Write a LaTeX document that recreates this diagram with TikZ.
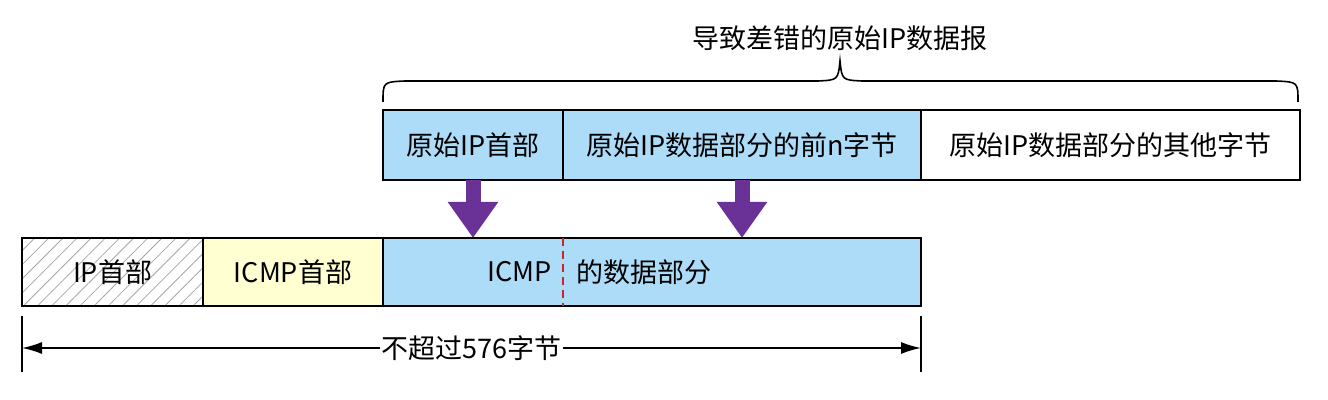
\documentclass[tikz,border=0pt]{standalone}
\usepackage{fontspec}
\setmainfont{Noto Sans CJK SC}
\usetikzlibrary{arrows.meta,patterns.meta}
\definecolor{pktblue}{HTML}{ADDCF8}
\definecolor{pktyellow}{HTML}{FFFFD2}
\definecolor{pktpurple}{HTML}{6A3296}
\definecolor{pktred}{HTML}{C8282D}
\begin{document}
\begin{tikzpicture}[x=0.5pt,y=-0.5pt]
    \tikzset{>={Latex[length=10pt,width=6pt]}}
    \tikzset{cell/.style={draw,line width=1pt,anchor=west,inner sep=0pt,outer sep=0pt,font=\fontsize{13.5}{16}\selectfont}}
    \tikzset{push/.style={pktpurple,line width=7.5pt,-{Triangle[length=18pt,width=24pt]}}}
    \tikzset{txt/.style={inner sep=0pt,font=\fontsize{13.5}{16}\selectfont}}
    \useasboundingbox (0,0) rectangle (1328,400);
    % original datagram
    \node[cell,fill=pktblue,minimum width=90pt,minimum height=35pt] (ohdr) at (383,145) {原始IP首部};
    \node[cell,fill=pktblue,minimum width=179pt,minimum height=35pt] (ofirst) at (ohdr.east) {原始IP数据部分的前n字节};
    \node[cell,fill=white,minimum width=189.5pt,minimum height=35pt] (orest) at (ofirst.east) {原始IP数据部分的其他字节};
    \draw[line width=0.8pt] (383,102) .. controls (383,82) .. (405,81) -- (818,81)
        .. controls (838,80) .. (840,61) .. controls (842,80) .. (862,81) -- (1276,81)
        .. controls (1298,82) .. (1298,102);
    \node[txt] (title) at (840,38) {导致差错的原始IP数据报};
    % icmp message
    \node[cell,pattern={Lines[angle=45,distance=5pt,line width=0.4pt]},pattern color=gray!70,minimum width=90.5pt,minimum height=34pt] (ip) at (22,272) {IP首部};
    \node[cell,fill=pktyellow,minimum width=90pt,minimum height=34pt] (icmp) at (ip.east) {ICMP首部};
    \node[cell,fill=pktblue,minimum width=269pt,minimum height=34pt] (data) at (icmp.east) {};
    \node[txt,anchor=east] (dl) at (552,272) {ICMP};
    \node[txt,anchor=west] (dr) at (576,272) {的数据部分};
    \draw[pktred,line width=1.4pt,dash pattern=on 4pt off 2.5pt] (ohdr.south east |- data.north) -- (ohdr.south east |- data.south);
    % copy arrows
    \draw[push] (ohdr.south) -- (ohdr.south |- data.north);
    \draw[push] (ofirst.south) -- (ofirst.south |- data.north);
    % length
    \coordinate (dimL) at (22,348);
    \coordinate (dimR) at (921,348);
    \draw[line width=0.8pt] (22,316) -- (22,372);
    \draw[line width=0.8pt] (921,316) -- (921,372);
    \draw[<->,line width=0.8pt] (dimL) -- node[txt,fill=white,inner xsep=1pt] (lim) {不超过576字节} (dimR);
\end{tikzpicture}
\end{document}
